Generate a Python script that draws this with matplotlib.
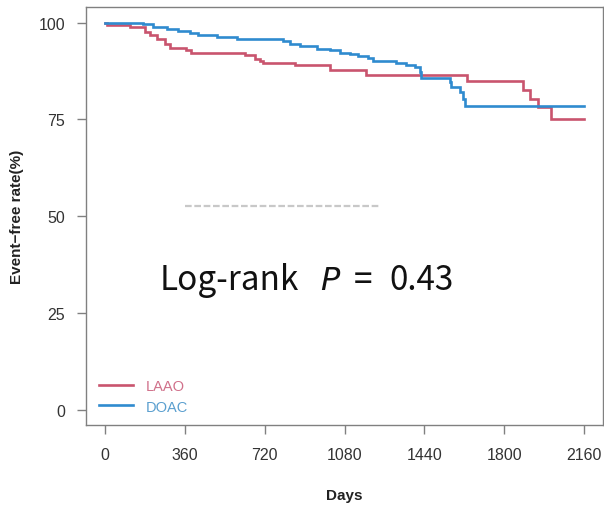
import matplotlib
matplotlib.use("Agg")
import matplotlib.pyplot as plt
from matplotlib.lines import Line2D

# ---- data ----
laao_days = [0, 10, 112, 180, 203, 233, 270, 293, 366, 389, 630, 676, 698, 713,
             856, 1014, 1179, 1632, 1885, 1915, 1953, 2013, 2160]
laao_surv = [100, 99.4, 98.8, 97.7, 96.8, 95.9, 94.6, 93.5, 92.9, 92.3, 91.6, 90.7,
             90.1, 89.6, 89.0, 87.7, 86.6, 84.9, 82.5, 80.3, 78.2, 75.1, 75.1]

doac_days = [0, 172, 217, 277, 330, 383, 420, 503, 593, 803, 833, 878, 954, 1014,
             1059, 1104, 1141, 1186, 1209, 1314, 1359, 1397, 1419, 1427, 1554, 1562,
             1599, 1614, 1622, 2160]
doac_surv = [100, 99.6, 99.0, 98.5, 97.9, 97.4, 96.8, 96.4, 95.9, 95.3, 94.6, 94.0,
             93.3, 92.9, 92.3, 91.8, 91.3, 90.9, 90.1, 89.6, 89.0, 88.6, 87.3, 85.7,
             84.7, 83.4, 82.1, 80.3, 78.6, 78.6]

x_ticks = [0, 360, 720, 1080, 1440, 1800, 2160]
y_ticks = [0, 25, 50, 75, 100]
series_names = ["LAAO", "DOAC"]

RED = "#C9546E"
BLUE = "#2F8BCF"
RED_TXT = "#D0708A"
BLUE_TXT = "#5A9FCF"
GRAY = "#808080"

W, H = 604, 506
fig = plt.figure(figsize=(W / 100, H / 100), dpi=100)
fig.patch.set_facecolor("white")
ax = fig.add_axes([86 / W, 1 - 426 / H, (603 - 86) / W, (426 - 8.3) / H])

l1, = ax.step(laao_days, laao_surv, where="post", color=RED, lw=1.9, solid_joinstyle="miter")
l2, = ax.step(doac_days, doac_surv, where="post", color=BLUE, lw=1.9, solid_joinstyle="miter")

ax.set_xlim(-86.4, 2246.4)
ax.set_ylim(-4, 104)
ax.set_xticks(x_ticks)
ax.set_yticks(y_ticks)
ax.set_xticklabels([str(t) for t in x_ticks])
ax.set_yticklabels([str(t) for t in y_ticks])

for s in ax.spines.values():
    s.set_color(GRAY)
    s.set_linewidth(1.0)
ax.tick_params(axis="both", direction="out", length=6.5, width=1.0, color=GRAY,
               labelsize=11.5, labelcolor="#333333")
ax.tick_params(axis="x", pad=9)
ax.tick_params(axis="y", pad=8.5)
for lab in ax.get_xticklabels() + ax.get_yticklabels():
    lab.set_fontfamily("Liberation Sans")

ax.set_xlabel("Days", fontsize=11, fontweight="bold", family="Liberation Sans", color="#222222")
ax.xaxis.set_label_coords((344.7 - 86) / (603 - 86), -(496 - 426) / (426 - 8.3))
ax.xaxis.label.set_va("center")
ax.set_ylabel("Event\u2212free rate(%)", fontsize=11, fontweight="bold",
              family="Liberation Sans", color="#222222")
ax.yaxis.set_label_coords(-(86 - 16.7) / (603 - 86), (426 - 216.7) / (426 - 8.3))
ax.yaxis.label.set_va("center")

leg = ax.legend([l1, l2], series_names, loc="upper left", frameon=False,
                bbox_to_anchor=(99 / W, 1 - 380 / H), bbox_transform=fig.transFigure,
                handlelength=2.3, handletextpad=0.9, labelspacing=0.45,
                borderpad=0, borderaxespad=0, prop={"family": "Liberation Sans", "size": 10.5})
for t, c in zip(leg.get_texts(), [RED_TXT, BLUE_TXT]):
    t.set_color(c)

# faint remnant line of erased text
fig.add_artist(Line2D([185 / W, 380 / W], [1 - 207 / H, 1 - 207 / H],
                      color="#c8c8c8", lw=1.6, dashes=(3, 1.2)))

# big annotation
base = 1 - 290 / H
fs = 24
fam = ["Noto Sans CJK KR", "DejaVu Sans"]
fig.text(229 / W, base, "Log-rank", fontsize=fs, family=fam,
         va="baseline", ha="center", color="#111111")
fig.text(330 / W, base, "P", fontsize=fs - 1, family=["DejaVu Sans"], style="oblique",
         va="baseline", ha="center", color="#111111")
fig.text(363 / W, base, "=", fontsize=fs, family=fam,
         va="baseline", ha="center", color="#111111")
fig.text(422 / W, base, "0.43", fontsize=fs, family=fam,
         va="baseline", ha="center", color="#111111")

fig.savefig("out.png", dpi=100, facecolor="white")
